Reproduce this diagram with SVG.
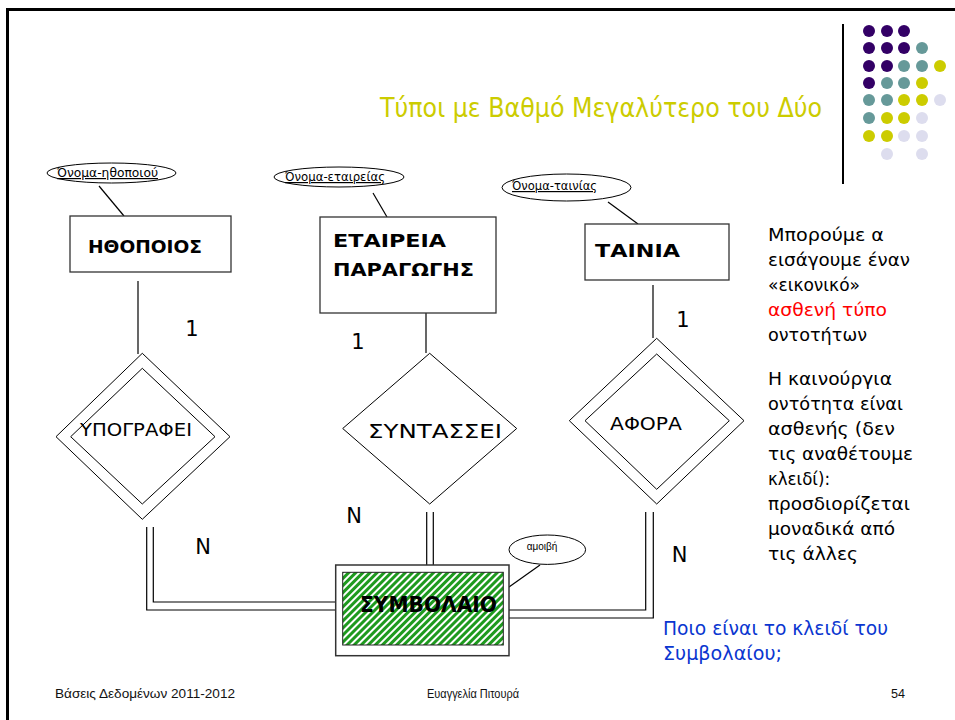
<svg xmlns="http://www.w3.org/2000/svg" width="955" height="720" viewBox="0 0 955 720">
<style>
.ln{stroke:#000;stroke-width:1.2;fill:none}
.box{fill:#fff;stroke:#333;stroke-width:1.3}
.att{fill:#fff;stroke:#000;stroke-width:1}
.attt{font-family:"DejaVu Sans",sans-serif;font-size:12px;text-decoration:underline;fill:#000}
.ent{font-family:"DejaVu Sans",sans-serif;font-size:17px;font-weight:bold;fill:#000}
.rel{font-family:"DejaVu Sans",sans-serif;font-size:17px;fill:#000}
.card{font-family:"DejaVu Sans",sans-serif;font-size:21px;fill:#000}
.side{font-family:"DejaVu Sans",sans-serif;font-size:18px;fill:#000}
.red{fill:#FF0000}
.blue{fill:#0A36D0;font-size:19px}
.foot{font-family:"Liberation Sans",Arial,sans-serif;font-size:12px;fill:#111}
.dp{fill:#330066}.dt{fill:#669999}.dy{fill:#CCCC00}.dl{fill:#DDDDEE}
</style>
<defs>
<pattern id="hatch" patternUnits="userSpaceOnUse" width="5" height="5" patternTransform="rotate(45)">
<rect width="5" height="5" fill="#fff"/>
<rect width="3" height="5" fill="#1E9A1E"/>
</pattern>
</defs>
<rect width="955" height="720" fill="#fff"/>
<g id="frame">
<line x1="6" y1="9.5" x2="955" y2="9.5" stroke="#000" stroke-width="3"/>
<line x1="7.5" y1="8" x2="7.5" y2="720" stroke="#000" stroke-width="3"/>
<line x1="843" y1="24" x2="843" y2="184" stroke="#000" stroke-width="2"/>
</g>
<g id="dots">
<circle class="dp" cx="869" cy="31" r="6"/><circle class="dp" cx="887" cy="31" r="6"/><circle class="dp" cx="904" cy="31" r="6"/>
<circle class="dp" cx="869" cy="48" r="6"/><circle class="dp" cx="887" cy="48" r="6"/><circle class="dp" cx="904" cy="48" r="6"/><circle class="dt" cx="922" cy="48" r="6"/>
<circle class="dp" cx="869" cy="66" r="6"/><circle class="dp" cx="887" cy="66" r="6"/><circle class="dt" cx="904" cy="66" r="6"/><circle class="dt" cx="922" cy="66" r="6"/><circle class="dy" cx="940" cy="66" r="6"/>
<circle class="dp" cx="869" cy="83" r="6"/><circle class="dt" cx="887" cy="83" r="6"/><circle class="dt" cx="904" cy="83" r="6"/><circle class="dy" cx="922" cy="83" r="6"/>
<circle class="dt" cx="869" cy="100" r="6"/><circle class="dt" cx="887" cy="100" r="6"/><circle class="dy" cx="904" cy="100" r="6"/><circle class="dy" cx="922" cy="100" r="6"/><circle class="dl" cx="940" cy="100" r="6"/>
<circle class="dt" cx="869" cy="118" r="6"/><circle class="dy" cx="887" cy="118" r="6"/><circle class="dy" cx="904" cy="118" r="6"/><circle class="dl" cx="922" cy="118" r="6"/>
<circle class="dy" cx="869" cy="136" r="6"/><circle class="dy" cx="887" cy="136" r="6"/><circle class="dl" cx="904" cy="136" r="6"/><circle class="dl" cx="922" cy="136" r="6"/>
<circle class="dl" cx="887" cy="154" r="6"/><circle class="dl" cx="922" cy="154" r="6"/>
</g>
<text id="title" x="380" y="117" font-family="DejaVu Sans, sans-serif" font-size="27" fill="#CCCC00" textLength="442" lengthAdjust="spacingAndGlyphs">Τύποι με Βαθμό Μεγαλύτερο του Δύο</text>

<g id="connectors">
<line class="ln" x1="99" y1="186" x2="124" y2="216"/>
<line class="ln" x1="373" y1="193" x2="387" y2="217"/>
<line class="ln" x1="608" y1="202" x2="638" y2="224"/>
<line class="ln" x1="540" y1="565" x2="509" y2="587"/>
<line class="ln" x1="138" y1="281" x2="138" y2="354"/>
<line class="ln" x1="426" y1="313" x2="426" y2="353"/>
<line class="ln" x1="653" y1="285" x2="653" y2="338"/>
<path class="ln" d="M146.7,527 V610 H335"/>
<path class="ln" d="M153.3,527 V602 H335"/>
<path class="ln" d="M426.7,512 V565"/>
<path class="ln" d="M433.3,512 V565"/>
<path class="ln" d="M645.7,512 V610 H509"/>
<path class="ln" d="M653.3,512 V618 H509"/>
</g>

<g id="attr-onoma-ithopoiou">
<ellipse class="att" cx="111.5" cy="173" rx="64.5" ry="10"/>
<text class="attt" x="57" y="177" textLength="101" lengthAdjust="spacingAndGlyphs">Όνομα-ηθοποιού</text>
</g>
<g id="attr-onoma-etaireias">
<ellipse class="att" cx="339" cy="177" rx="65" ry="10"/>
<text class="attt" x="285" y="181" textLength="100" lengthAdjust="spacingAndGlyphs">Όνομα-εταιρείας</text>
</g>
<g id="attr-onoma-tainias">
<ellipse class="att" cx="566.5" cy="187.5" rx="64.5" ry="13.5"/>
<text class="attt" x="512" y="190" textLength="85" lengthAdjust="spacingAndGlyphs">Όνομα-ταινίας</text>
</g>
<g id="attr-amoivi">
<ellipse class="att" cx="547.3" cy="549.7" rx="38.3" ry="14.7"/>
<text x="526.7" y="550" font-family="Liberation Sans, Arial, sans-serif" font-size="10" fill="#000" textLength="30.6" lengthAdjust="spacingAndGlyphs">αμοιβή</text>
</g>

<g id="ent-ithopoios">
<rect class="box" x="70" y="216" width="161" height="56"/>
<text class="ent" x="88" y="253" textLength="114" lengthAdjust="spacingAndGlyphs">ΗΘΟΠΟΙΟΣ</text>
</g>
<g id="ent-etaireia">
<rect class="box" x="320" y="217" width="176" height="96"/>
<text class="ent" x="333" y="247" textLength="113" lengthAdjust="spacingAndGlyphs">ΕΤΑΙΡΕΙΑ</text>
<text class="ent" x="333" y="276" textLength="141" lengthAdjust="spacingAndGlyphs">ΠΑΡΑΓΩΓΗΣ</text>
</g>
<g id="ent-tainia">
<rect class="box" x="585" y="224" width="144" height="56"/>
<text class="ent" x="595" y="257" textLength="85" lengthAdjust="spacingAndGlyphs">ΤΑΙΝΙΑ</text>
</g>

<g id="rel-ypografei">
<polygon class="att" points="142.3,353.3 230,436.7 142.3,519.3 56,436.7"/>
<polygon class="att" points="142.3,368.3 215,436.7 142.3,504 70.7,436.7"/>
<text class="rel" x="80" y="436" textLength="112" lengthAdjust="spacingAndGlyphs">ΥΠΟΓΡΑΦΕΙ</text>
</g>
<g id="rel-syntassei">
<polygon class="att" points="429.7,353.3 516.7,428.5 429.7,504 342.7,428.5"/>
<text class="rel" x="368" y="438" style="font-size:20px" textLength="134" lengthAdjust="spacingAndGlyphs">ΣΥΝΤΑΣΣΕΙ</text>
</g>
<g id="rel-afora">
<polygon class="att" points="656.7,338.3 744,420.7 656.7,504 569.3,420.7"/>
<polygon class="att" points="656.7,354 729.3,420.7 656.7,489.3 585,420.7"/>
<text class="rel" x="610" y="430" textLength="72" lengthAdjust="spacingAndGlyphs">ΑΦΟΡΑ</text>
</g>

<g id="weak-symvolaio">
<rect x="335.7" y="565" width="173.3" height="90.7" fill="#fff" stroke="#333" stroke-width="1.5"/>
<rect x="342.7" y="572.3" width="160.6" height="72.7" fill="url(#hatch)" stroke="#222" stroke-width="1"/>
<text class="ent" x="360" y="612" style="font-size:21px" textLength="137" lengthAdjust="spacingAndGlyphs">ΣΥΜΒΟΛΑΙΟ</text>
</g>

<g id="cardinalities">
<text class="card" x="192" y="336" text-anchor="middle">1</text>
<text class="card" x="358" y="349" text-anchor="middle">1</text>
<text class="card" x="683" y="327" text-anchor="middle">1</text>
<text class="card" x="203" y="554" text-anchor="middle">N</text>
<text class="card" x="354" y="523" text-anchor="middle">N</text>
<text class="card" x="679.5" y="562" text-anchor="middle">N</text>
</g>

<g id="side-text">
<text class="side" x="768" y="241" textLength="116" lengthAdjust="spacingAndGlyphs">Μπορούμε α</text>
<text class="side" x="768" y="266" textLength="142" lengthAdjust="spacingAndGlyphs">εισάγουμε έναν</text>
<text class="side" x="768" y="291" textLength="92" lengthAdjust="spacingAndGlyphs">«εικονικό»</text>
<text class="side red" x="768" y="316" textLength="119" lengthAdjust="spacingAndGlyphs">ασθενή τύπο</text>
<text class="side" x="768" y="341" textLength="99" lengthAdjust="spacingAndGlyphs">οντοτήτων</text>
<text class="side" x="768" y="385" textLength="124" lengthAdjust="spacingAndGlyphs">Η καινούργια</text>
<text class="side" x="768" y="410" textLength="135" lengthAdjust="spacingAndGlyphs">οντότητα είναι</text>
<text class="side" x="768" y="435" textLength="127" lengthAdjust="spacingAndGlyphs">ασθενής (δεν</text>
<text class="side" x="768" y="460" textLength="145" lengthAdjust="spacingAndGlyphs">τις αναθέτουμε</text>
<text class="side" x="768" y="485" textLength="62" lengthAdjust="spacingAndGlyphs">κλειδί):</text>
<text class="side" x="768" y="510" textLength="142" lengthAdjust="spacingAndGlyphs">προσδιορίζεται</text>
<text class="side" x="768" y="535" textLength="127" lengthAdjust="spacingAndGlyphs">μοναδικά από</text>
<text class="side" x="768" y="560" textLength="90" lengthAdjust="spacingAndGlyphs">τις άλλες</text>
</g>
<g id="question">
<text class="side blue" x="663" y="635" textLength="225" lengthAdjust="spacingAndGlyphs">Ποιο είναι το κλειδί του</text>
<text class="side blue" x="663" y="660" textLength="119" lengthAdjust="spacingAndGlyphs">Συμβολαίου;</text>
</g>
<g id="footer">
<text class="foot" x="55" y="698" textLength="180" lengthAdjust="spacingAndGlyphs">Βάσεις Δεδομένων 2011-2012</text>
<text class="foot" x="427" y="698" textLength="92" lengthAdjust="spacingAndGlyphs">Ευαγγελία Πιτουρά</text>
<text class="foot" x="891" y="698" textLength="14" lengthAdjust="spacingAndGlyphs">54</text>
</g>
</svg>
